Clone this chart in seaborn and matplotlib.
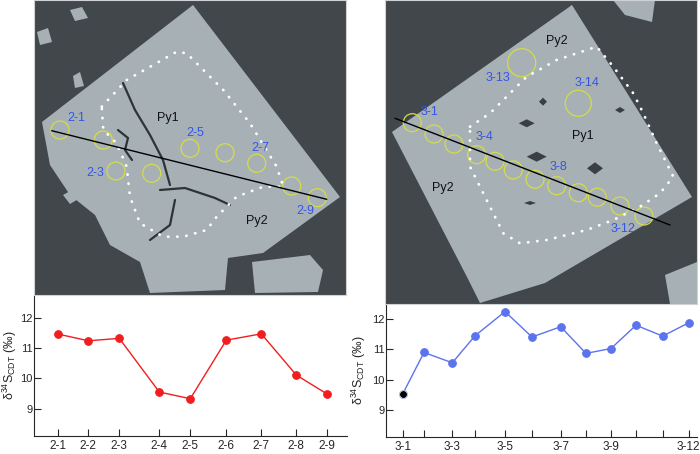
import numpy as np
import pandas as pd
import matplotlib
matplotlib.use("Agg")
import matplotlib.pyplot as plt
from matplotlib.patches import Polygon, Circle
import seaborn as sns

# profile across grain 2 (left)
spots_2 = ["2-1", "2-2", "2-3", "2-4", "2-5", "2-6", "2-7", "2-8", "2-9"]
dist_2 = [0, 30, 61, 101, 132, 168, 203, 238, 269]
d34s_2 = [11.46, 11.24, 11.32, 9.55, 9.33, 11.26, 11.47, 10.11, 9.48]

# profile across grain 3 (right)
spots_3 = ["3-1", "3-2", "3-3", "3-4", "3-5", "3-6", "3-7", "3-8", "3-9", "3-10", "3-11", "3-12"]
dist_3 = [0, 21.3, 49.6, 72.3, 102.3, 129.3, 158, 183.3, 208.3, 233.3, 260, 286]
d34s_3 = [9.53, 10.90, 10.56, 11.45, 12.25, 11.41, 11.75, 10.87, 11.03, 11.80, 11.44, 11.88]
ticklabels_3 = ["3-1", "", "3-3", "", "3-5", "", "3-7", "", "3-9", "", "", "3-12"]

# BSE image sketches (figure pixel coords)
grain_2 = [(42, 122), (193, 5), (340, 197), (263, 253), (228, 258), (225, 290),
           (150, 293), (140, 262), (110, 245), (95, 215), (70, 195), (50, 165)]
frags_2 = [
    [(252, 262), (310, 255), (323, 270), (318, 292), (255, 293)],
    [(70, 10), (82, 7), (88, 18), (75, 21)],
    [(37, 32), (48, 28), (52, 42), (40, 45)],
    [(73, 76), (80, 72), (84, 86), (75, 88)],
    [(63, 195), (72, 190), (80, 198), (70, 204)],
]
cracks_2 = [
    [(123, 83), (135, 110), (150, 135), (163, 160), (170, 185)],
    [(118, 130), (128, 138), (125, 150), (132, 160)],
    [(160, 190), (185, 188), (215, 198), (230, 205)],
    [(175, 200), (170, 225), (150, 240)],
]
rim_2 = [(101.7, 106.7), (126.7, 80), (176.7, 51.7), (186.7, 53.3), (223.3, 90),
         (250, 123.3), (276.7, 166.7), (283.3, 186.7), (263.3, 186.7), (236.7, 196.7),
         (216.7, 216.7), (206.7, 230), (183.3, 236.7), (163.3, 236.7), (140, 223.3),
         (130, 196.7), (126.7, 166.7), (116.7, 143.3), (103.3, 130), (101.7, 106.7)]
spots_xy_2 = [(60, 130), (103.3, 140), (116, 171), (151.7, 173.3), (190, 148.3),
              (225, 152.7), (256.7, 163.3), (291.7, 186), (317.3, 197.7)]
line_2 = [(51.7, 130.7), (326.7, 199.3)]
tags_2 = {"2-1": (76.7, 118.3), "2-3": (95, 173.3), "2-5": (195, 133.3),
          "2-7": (260, 148.3), "2-9": (305, 210.7)}
zones_2 = {"Py1": (168.3, 118.3), "Py2": (257.3, 220.7)}

grain_3 = [(392, 132), (572, 5), (692, 197), (545, 283), (480, 303), (467, 277)]
frags_3 = [
    [(613, 0), (655, 0), (652, 22), (625, 15)],
    [(665, 275), (697, 262), (697, 304), (670, 304)],
]
holes_3 = [(526.7, 123.3, 8, 4), (536.7, 156.7, 10, 5), (595, 168.3, 8, 6),
           (620, 110, 5, 3), (543, 101.7, 4, 4), (530, 203, 6, 2)]
rim_3 = [(470, 126.7), (490, 113.3), (526.7, 76.7), (556.7, 60), (596.7, 46.7),
         (613.3, 66.7), (633.3, 93.3), (643.3, 113.3), (656.7, 143.3), (673.3, 176.7),
         (660, 193.3), (640, 206.7), (613.3, 220), (586.7, 230), (546.7, 240),
         (520, 243.3), (503.3, 233.3), (490, 206.7), (480, 186.7), (470, 166.7),
         (470, 126.7)]
spots_xy_3 = [(412.3, 122.7), (434, 134), (454, 144), (476.7, 154.7), (495, 161.3),
              (513.3, 170), (535, 179.3), (556.7, 185.7), (578.3, 192.7), (597.3, 197.3),
              (620, 206), (644, 216)]
big_spots_3 = [(521.7, 62.7, 14), (578.3, 103.3, 13)]
line_3 = [(395, 118.3), (670, 225)]
tags_3 = {"3-1": (429.3, 111.7), "3-13": (498.3, 78.3), "3-14": (586.7, 83.3),
          "3-4": (485, 137.3), "3-8": (558.3, 166.7), "3-12": (623.3, 229.3)}
zones_3 = {"Py2": (556.7, 40.7), "Py1": (582.7, 136), "Py2 ": (443.3, 188.3)}

sns.set_style("ticks")
plt.rcParams["font.family"] = ["Liberation Sans", "DejaVu Sans"]
plt.rcParams["mathtext.fontset"] = "custom"
plt.rcParams["mathtext.rm"] = "Liberation Sans"
plt.rcParams["mathtext.it"] = "Liberation Sans"

W, H = 700, 454
fig = plt.figure(figsize=(7, 4.54), dpi=100)


def px_axes(x0, y0, x1, y1):
    return fig.add_axes([x0 / W, 1 - y1 / H, (x1 - x0) / W, (y1 - y0) / H])


ylab = "δ$^{34}$S$_{\\rm CDT}$ (‰)"
red = "#f01e1e"
blue = "#5c73ee"

# left profile
ax1 = px_axes(34, 295, 347, 436)
df2 = pd.DataFrame({"dist": dist_2, "d34s": d34s_2})
sns.lineplot(data=df2, x="dist", y="d34s", color=red, marker="o", markersize=5.5,
             markeredgecolor=red, lw=1, ax=ax1)
ax1.set_xlim(-24.3, 288.7)
ax1.set_ylim(8.1, 12.75)
ax1.set_xticks(dist_2)
ax1.set_xticklabels(spots_2)
ax1.set_yticks([9, 10, 11, 12])
ax1.yaxis.set_label_coords(-0.048, 0.49)

# right profile
ax2 = px_axes(386, 304, 697, 436.7)
df3 = pd.DataFrame({"dist": dist_3, "d34s": d34s_3})
sns.lineplot(data=df3, x="dist", y="d34s", color=blue, marker="o", markersize=5.5,
             markeredgecolor=blue, lw=1, ax=ax2)
sns.scatterplot(x=dist_3[:1], y=d34s_3[:1], color="black", s=30, zorder=5, ax=ax2)
ax2.set_xlim(-16.7, 294.3)
ax2.set_ylim(8.12, 12.5)
ax2.set_xticks(dist_3)
ax2.set_xticklabels(ticklabels_3)
ax2.set_yticks([9, 10, 11, 12])
ax2.yaxis.set_label_coords(-0.058, 0.5)

for ax in (ax1, ax2):
    sns.despine(ax=ax, top=True, right=True)
    ax.tick_params(direction="in", length=5, width=0.8)
    ax.tick_params(axis="x", labelsize=8.5, pad=3)
    ax.tick_params(axis="y", labelsize=8, pad=1)
    ax.set_xlabel("")
    ax.set_ylabel(ylab, fontsize=9)
    ax.patch.set_alpha(0)

# BSE image panels
dark = "#41474b"
light = "#a7b1b5"
ring = "#d4dc46"
tagc = "#3355e6"


def draw_photo(ax, grain, frags, rim, spots, r, line, tags, zones):
    ax.set_facecolor(dark)
    ax.add_patch(Polygon(grain, closed=True, fc=light, ec="none"))
    for f in frags:
        ax.add_patch(Polygon(f, closed=True, fc=light, ec="none"))
    rx, ry = zip(*rim)
    ax.plot(rx, ry, color="white", lw=2, linestyle=(0, (0.1, 3.2)),
            dash_capstyle="round")
    for x, y in spots:
        ax.add_patch(Circle((x, y), r, fc="none", ec=ring, lw=0.9))
    lx, ly = zip(*line)
    ax.plot(lx, ly, color="black", lw=1)
    for t, (x, y) in tags.items():
        ax.text(x, y, t, color=tagc, fontsize=9, ha="center", va="center")
    for t, (x, y) in zones.items():
        ax.text(x, y, t.strip(), color="#111111", fontsize=9, ha="center", va="center")
    ax.set_xticks([])
    ax.set_yticks([])
    for s in ax.spines.values():
        s.set_color("#cfd3d5")
        s.set_linewidth(0.8)


ph1 = px_axes(34, 0, 346, 295)
ph1.set_xlim(34, 346)
ph1.set_ylim(295, 0)
draw_photo(ph1, grain_2, frags_2, rim_2, spots_xy_2, 9, line_2, tags_2, zones_2)
for c in cracks_2:
    cx, cy = zip(*c)
    ph1.plot(cx, cy, color="#2e3336", lw=1.6, zorder=1.5)

ph2 = px_axes(385, 0, 697, 304)
ph2.set_xlim(385, 697)
ph2.set_ylim(304, 0)
draw_photo(ph2, grain_3, frags_3, rim_3, spots_xy_3, 9, line_3, tags_3, zones_3)
for x, y, w, h in holes_3:
    ph2.add_patch(Polygon([(x - w, y), (x, y - h), (x + w, y), (x, y + h)],
                          closed=True, fc="#3a3f43", ec="none", zorder=1.5))
for x, y, r in big_spots_3:
    ph2.add_patch(Circle((x, y), r, fc="none", ec=ring, lw=0.9))

fig.savefig("out.png", dpi=100)
